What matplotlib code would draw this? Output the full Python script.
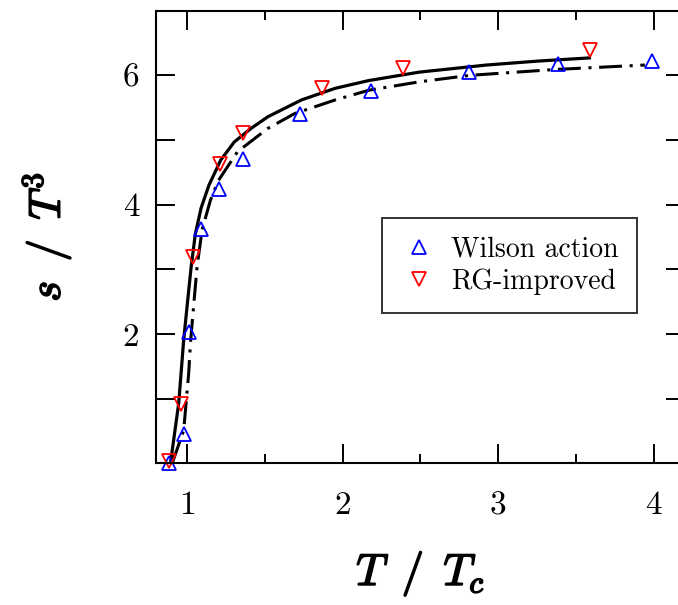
import numpy as np
import matplotlib
matplotlib.use("Agg")
import matplotlib.pyplot as plt
import matplotlib.patheffects as pe
from matplotlib.font_manager import FontProperties
from matplotlib.ticker import MultipleLocator

plt.rcParams['mathtext.fontset'] = 'cm'

# -----------------------
# Data
# -----------------------
wilson_t = [0.885, 0.978, 1.015, 1.091, 1.205, 1.357, 1.727, 2.183, 2.813, 3.386, 3.985]
wilson_s = [0.0, 0.46, 2.03, 3.62, 4.25, 4.71, 5.40, 5.76, 6.05, 6.17, 6.22]

rg_t = [0.885, 0.961, 1.036, 1.212, 1.357, 1.866, 2.390, 3.590]
rg_s = [0.03, 0.92, 3.19, 4.63, 5.11, 5.81, 6.12, 6.40]

# solid curve (RG-improved fit)
rg_fit_t = [0.893, 0.946, 0.978, 1.004, 1.026, 1.053, 1.090, 1.140, 1.216, 1.303,
            1.411, 1.519, 1.735, 1.952, 2.168, 2.492, 2.925, 3.250, 3.585]
rg_fit_s = [0.0, 0.93, 1.91, 2.53, 3.04, 3.55, 3.95, 4.30, 4.69, 4.97,
            5.18, 5.36, 5.62, 5.80, 5.92, 6.05, 6.16, 6.22, 6.27]

# dash-dot curve (Wilson fit)
w_fit_t = [0.904, 0.978, 1.010, 1.021, 1.043, 1.064, 1.096, 1.150, 1.200, 1.324,
           1.519, 1.692, 1.952, 2.168, 2.492, 2.817, 3.358, 3.942]
w_fit_s = [0.0, 0.51, 1.39, 1.85, 2.47, 3.04, 3.61, 4.07, 4.37, 4.82,
           5.18, 5.41, 5.62, 5.77, 5.90, 6.00, 6.09, 6.16]

x_ticks = [1, 2, 3, 4]
y_ticks = [2, 4, 6]

# -----------------------
# Figure
# -----------------------
fig = plt.figure(figsize=(6.78, 6.05), dpi=100)
ax = fig.add_axes([0.2301, 0.2342, 0.7802, 0.7481])

ax.plot(rg_fit_t, rg_fit_s, color='black', lw=2.3, solid_joinstyle='round')
ax.plot(w_fit_t, w_fit_s, color='black', lw=2.2, linestyle=(0, (7.5, 2.5, 1, 2.5)))

ax.plot(wilson_t, wilson_s, linestyle='none', marker='^', markersize=10,
        markerfacecolor='none', markeredgecolor='blue', markeredgewidth=1.3,
        label='Wilson action', clip_on=False)
ax.plot(rg_t, rg_s, linestyle='none', marker='v', markersize=10,
        markerfacecolor='none', markeredgecolor='red', markeredgewidth=1.3,
        label='RG-improved', clip_on=False)

ax.set_xlim(0.8, 4.2)
ax.set_ylim(0, 7)

ax.set_xticks(x_ticks)
ax.set_xticklabels([str(v) for v in x_ticks], fontname='cmr10', fontsize=24)
ax.set_yticks(y_ticks)
ax.set_yticklabels([str(v) for v in y_ticks], fontname='cmr10', fontsize=24)
ax.xaxis.set_minor_locator(MultipleLocator(0.5))
ax.yaxis.set_minor_locator(MultipleLocator(1))

ax.tick_params(which='both', direction='in', top=True, right=True, width=1.4)
ax.tick_params(axis='x', which='major', length=13.5, pad=20)
ax.tick_params(axis='x', which='minor', length=6.5)
ax.tick_params(axis='y', which='both', length=13.5, pad=12)
for sp in ax.spines.values():
    sp.set_linewidth(1.5)

bold = [pe.withStroke(linewidth=1.2, foreground='black')]
ax.set_xlabel(r'$T\ \,/\ \,T_c$', fontsize=32, labelpad=20, path_effects=bold)
ax.set_ylabel(r'$s\ \,/\ \,T^3$', fontsize=32, labelpad=36, path_effects=bold)

leg = ax.legend(loc='center', bbox_to_anchor=(0.668, 0.437),
                prop=FontProperties(family='cmr10', size=20),
                frameon=True, fancybox=False, edgecolor='black',
                handletextpad=0.45, borderpad=0.65, labelspacing=0.2,
                handlelength=1.4, borderaxespad=0)
leg.get_frame().set_linewidth(1.4)

fig.savefig('out.png', dpi=100)
